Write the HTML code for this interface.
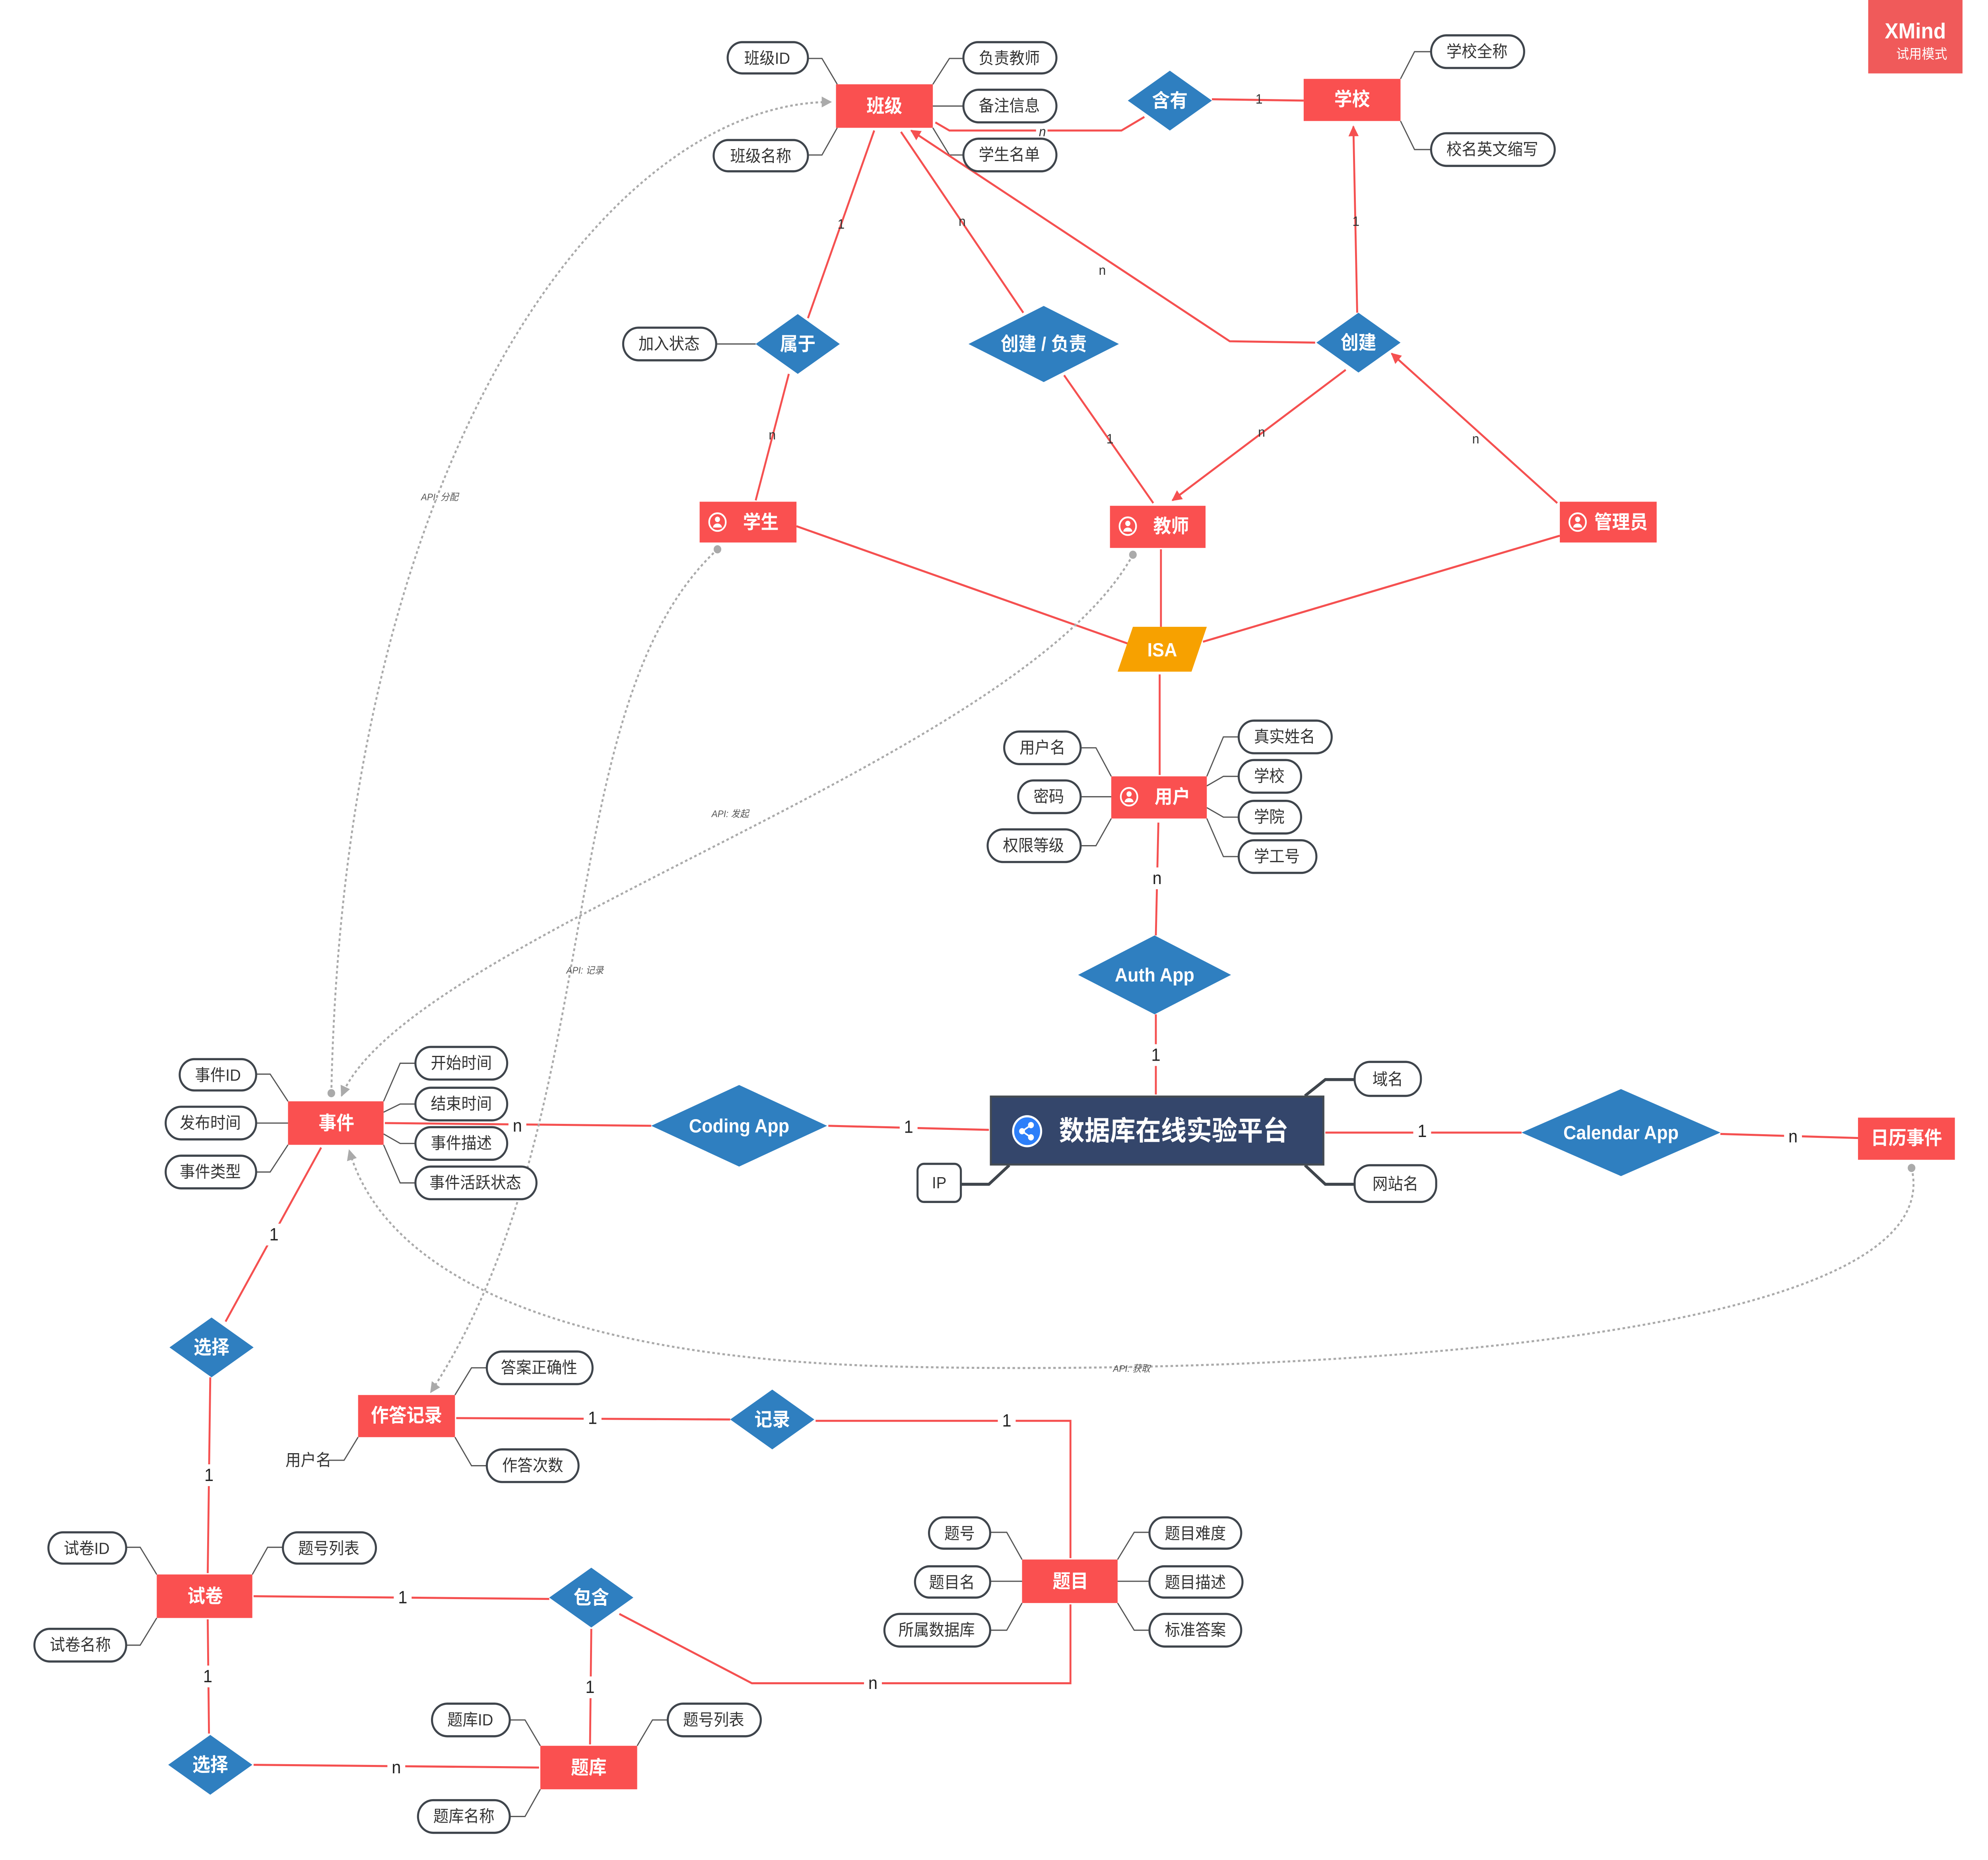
<!DOCTYPE html>
<html><head><meta charset="utf-8"><style>
html,body{margin:0;padding:0;background:#fff;width:100%;height:100%;overflow:hidden}
svg{display:block;width:100vw;height:100vh}
text{font-family:"Liberation Sans","Noto Sans CJK SC",sans-serif}
.e{fill:#fa5050}
.et{fill:#fff;font-size:14px;font-weight:bold;text-anchor:middle;dominant-baseline:central}
.d{fill:#2f7fc0}
.dt{fill:#fff;font-size:14px;font-weight:bold;text-anchor:middle;dominant-baseline:central}
.p{fill:#fff;stroke:#3f454c;stroke-width:1.6}
.pt{fill:#333;font-size:12px;text-anchor:middle;dominant-baseline:central}
.a{fill:none;stroke:#555;stroke-width:0.9}
.r{fill:none;stroke:#f55050;stroke-width:1.5}
.l{fill:#333;font-size:10px;text-anchor:middle;dominant-baseline:central}
.L{fill:#222;font-size:13px;text-anchor:middle;dominant-baseline:central}
.g{fill:none;stroke:#aaa;stroke-width:1.5;stroke-dasharray:2 2}
.gl{fill:#555;font-size:7px;font-style:italic;text-anchor:middle}
</style></head><body>
<svg viewBox="0 0 1560 1368" preserveAspectRatio="none" xmlns="http://www.w3.org/2000/svg">
<defs>
<marker id="ar" viewBox="0 0 10 10" refX="9" refY="5" markerWidth="8" markerHeight="8" orient="auto-start-reverse" markerUnits="userSpaceOnUse"><path d="M0,0 L10,5 L0,10 z" fill="#f55050"/></marker>
<marker id="ag" viewBox="0 0 10 10" refX="9" refY="5" markerWidth="8" markerHeight="8" orient="auto" markerUnits="userSpaceOnUse"><path d="M0,0 L10,5 L0,10 z" fill="#aaa"/></marker>
<marker id="dg" viewBox="0 0 10 10" refX="5" refY="5" markerWidth="6" markerHeight="6" markerUnits="userSpaceOnUse"><circle cx="5" cy="5" r="5" fill="#aaa"/></marker>
</defs>

<g class="a">
<polyline points="634,43 645,43 657,62"/><polyline points="634,114 645,114 657,94"/>
<polyline points="756,43 745,43 732,62"/><polyline points="756,78 732,78"/><polyline points="756,114 745,114 732,94"/>
<polyline points="1123,38 1110,38 1099,58"/><polyline points="1123,110 1110,110 1099,89"/>
<polyline points="562,253 593,253"/>
<polyline points="848,550 860,550 872,571"/><polyline points="848,586 872,586"/><polyline points="848,622 860,622 872,602"/>
<polyline points="972,542 960,542 947,571"/><polyline points="972,571 960,571 947,578"/><polyline points="972,601 960,601 947,594"/><polyline points="972,630 960,630 947,602"/>
<polyline points="201,790 212,790 226,810"/><polyline points="201,826 226,826"/><polyline points="201,862 212,862 226,842"/>
<polyline points="326,782 314,782 301,810"/><polyline points="326,812 314,812 301,818"/><polyline points="326,841 314,841 301,834"/><polyline points="326,870 314,870 301,842"/>
<polyline points="382,1006 370,1006 357,1026"/><polyline points="382,1078 370,1078 357,1057"/><polyline points="258,1074 270,1074 281,1057"/>
<polyline points="99,1138 110,1138 123,1158"/><polyline points="99,1210 110,1210 123,1190"/><polyline points="222,1138 210,1138 198,1158"/>
<polyline points="777,1127 790,1127 802,1147"/><polyline points="777,1163 802,1163"/><polyline points="777,1199 790,1199 802,1179"/>
<polyline points="902,1127 890,1127 877,1147"/><polyline points="902,1163 877,1163"/><polyline points="902,1199 890,1199 877,1179"/>
<polyline points="400,1265 412,1265 424,1284"/><polyline points="400,1336 412,1336 424,1316"/><polyline points="524,1265 512,1265 500,1284"/>
</g>
<g fill="none" stroke="#3f454c" stroke-width="2.2">
<polyline points="1063,794 1040,794 1024,806"/><polyline points="1063,871 1040,871 1024,857"/><polyline points="754,871 776,871 792,857"/>
</g>

<g class="r">
<polyline points="734,90 745,96 880,96 898,86"/>
<line x1="951" y1="73" x2="1023" y2="74"/>
<line x1="1065" y1="230" x2="1062" y2="93" marker-end="url(#ar)"/>
<line x1="686" y1="96" x2="634" y2="234"/>
<line x1="619" y1="275" x2="593" y2="368"/>
<line x1="803" y1="230" x2="707" y2="97"/>
<polyline points="1032,252 965,251 715,96" marker-end="url(#ar)"/>
<line x1="835" y1="276" x2="905" y2="370"/>
<line x1="1056" y1="272" x2="920" y2="368" marker-end="url(#ar)"/>
<line x1="1222" y1="370" x2="1092" y2="260" marker-end="url(#ar)"/>
<line x1="625" y1="387" x2="887" y2="474"/>
<line x1="911" y1="404" x2="911" y2="461"/>
<line x1="1224" y1="394" x2="944" y2="472"/>
<line x1="910" y1="496" x2="910" y2="570"/>
<line x1="909" y1="605" x2="907" y2="688"/>
<line x1="907" y1="746" x2="907" y2="805"/>
<line x1="650" y1="828" x2="776" y2="831"/>
<line x1="302" y1="826" x2="511" y2="828"/>
<line x1="1040" y1="833" x2="1194" y2="833"/>
<line x1="1350" y1="834" x2="1458" y2="837"/>
<line x1="252" y1="844" x2="177" y2="972"/>
<line x1="165" y1="1013" x2="163" y2="1157"/>
<line x1="358" y1="1043" x2="573" y2="1044"/>
<polyline points="640,1045 840,1045 840,1146"/>
<line x1="199" y1="1174" x2="431" y2="1176"/>
<polyline points="486,1187 590,1238 840,1238 840,1180"/>
<line x1="464" y1="1198" x2="463" y2="1283"/>
<line x1="163" y1="1191" x2="164" y2="1275"/>
<line x1="199" y1="1298" x2="423" y2="1300"/>
</g>
<g>
<rect x="813" y="91" width="9" height="10" fill="#fff"/><text class="l" x="818" y="97" font-style="italic" font-size="8">n</text>
<text class="l" x="988" y="73" font-size="8">1</text>
<text class="l" x="1064" y="163" font-size="8">1</text>
<text class="l" x="660" y="165" font-size="8">1</text>
<text class="l" x="606" y="320" font-size="8">n</text>
<text class="l" x="755" y="163" font-size="8">n</text>
<text class="l" x="865" y="199" font-size="8">n</text>
<text class="l" x="871" y="323" font-size="8">1</text>
<text class="l" x="990" y="318" font-size="8">n</text>
<text class="l" x="1158" y="323" font-size="8">n</text>
</g>
<g>
<rect x="901" y="638" width="14" height="16" fill="#fff"/><text class="L" x="908" y="646">n</text>
<rect x="900" y="768" width="14" height="16" fill="#fff"/><text class="L" x="907" y="776">1</text>
<rect x="706" y="821" width="14" height="16" fill="#fff"/><text class="L" x="713" y="829">1</text>
<rect x="399" y="820" width="14" height="16" fill="#fff"/><text class="L" x="406" y="828">n</text>
<rect x="1109" y="824" width="14" height="16" fill="#fff"/><text class="L" x="1116" y="832">1</text>
<rect x="1400" y="828" width="14" height="16" fill="#fff"/><text class="L" x="1407" y="836">n</text>
<rect x="208" y="900" width="14" height="16" fill="#fff"/><text class="L" x="215" y="908">1</text>
<rect x="157" y="1077" width="14" height="16" fill="#fff"/><text class="L" x="164" y="1085">1</text>
<rect x="458" y="1035" width="14" height="16" fill="#fff"/><text class="L" x="465" y="1043">1</text>
<rect x="783" y="1037" width="14" height="16" fill="#fff"/><text class="L" x="790" y="1045">1</text>
<rect x="309" y="1167" width="14" height="16" fill="#fff"/><text class="L" x="316" y="1175">1</text>
<rect x="678" y="1230" width="14" height="16" fill="#fff"/><text class="L" x="685" y="1238">n</text>
<rect x="456" y="1233" width="14" height="16" fill="#fff"/><text class="L" x="463" y="1241">1</text>
<rect x="156" y="1225" width="14" height="16" fill="#fff"/><text class="L" x="163" y="1233">1</text>
<rect x="304" y="1292" width="14" height="16" fill="#fff"/><text class="L" x="311" y="1300">n</text>
</g>

<path class="g" d="M260,804 C270,330 480,75 652,75" marker-start="url(#dg)" marker-end="url(#ag)"/>
<path class="g" d="M889,408 C800,560 320,690 268,806" marker-start="url(#dg)" marker-end="url(#ag)"/>
<path class="g" d="M563,404 C430,520 480,820 338,1024" marker-start="url(#dg)" marker-end="url(#ag)"/>
<path class="g" d="M1500,859 C1534,990 1000,1012 700,1005 C420,998 300,930 274,846" marker-start="url(#dg)" marker-end="url(#ag)"/>
<text class="gl" x="345" y="368">API: 分配</text>
<text class="gl" x="573" y="601">API: 发起</text>
<text class="gl" x="459" y="716">API: 记录</text>
<text class="gl" x="888" y="1009">API: 获取</text>

<rect class="e" x="656" y="62" width="76" height="32"/><text class="et" x="694" y="78">班级</text>
<rect class="e" x="1023" y="58" width="76" height="31"/><text class="et" x="1061" y="73">学校</text>
<rect class="e" x="549" y="369" width="76" height="30"/><text class="et" x="597" y="384">学生</text>
<rect class="e" x="871" y="372" width="75" height="31"/><text class="et" x="919" y="387">教师</text>
<rect class="e" x="1224" y="369" width="76" height="30"/><text class="et" x="1272" y="384">管理员</text>
<rect class="e" x="872" y="571" width="75" height="31"/><text class="et" x="920" y="586">用户</text>
<rect class="e" x="226" y="810" width="75" height="32"/><text class="et" x="264" y="826">事件</text>
<rect class="e" x="281" y="1026" width="76" height="31"/><text class="et" x="319" y="1041">作答记录</text>
<rect class="e" x="123" y="1158" width="75" height="32"/><text class="et" x="161" y="1174">试卷</text>
<rect class="e" x="802" y="1147" width="75" height="32"/><text class="et" x="840" y="1163">题目</text>
<rect class="e" x="424" y="1284" width="76" height="32"/><text class="et" x="462" y="1300">题库</text>
<rect class="e" x="1458" y="822" width="76" height="31"/><text class="et" x="1496" y="837">日历事件</text>
<g fill="none" stroke="#fff" stroke-width="1.3">
<circle cx="563" cy="384" r="6.5"/><circle cx="885" cy="387" r="6.5"/><circle cx="1238" cy="384" r="6.5"/><circle cx="886" cy="586" r="6.5"/>
</g>
<g fill="#fff">
<circle cx="563" cy="382" r="2"/><path d="M559.5,388 a3.5,3 0 0 1 7,0z"/>
<circle cx="885" cy="385" r="2"/><path d="M881.5,391 a3.5,3 0 0 1 7,0z"/>
<circle cx="1238" cy="382" r="2"/><path d="M1234.5,388 a3.5,3 0 0 1 7,0z"/>
<circle cx="886" cy="584" r="2"/><path d="M882.5,590 a3.5,3 0 0 1 7,0z"/>
</g>

<rect x="777.5" y="806.5" width="261" height="50" fill="#34466b" stroke="#444b52" stroke-width="1.5"/>
<circle cx="806" cy="832" r="11" fill="#2d7ff9" stroke="#fff" stroke-width="1.6"/>
<g fill="#fff" stroke="#fff" stroke-width="1.2"><line x1="802" y1="832" x2="809" y2="827.5"/><line x1="802" y1="832" x2="809" y2="836.5"/><circle cx="802" cy="832" r="1.7"/><circle cx="809" cy="827.5" r="1.7"/><circle cx="809" cy="836.5" r="1.7"/></g>
<text x="921" y="832" fill="#fff" font-size="20" font-weight="bold" text-anchor="middle" dominant-baseline="central">数据库在线实验平台</text>

<polygon class="d" points="885,74 918,52 951,74 918,96"/><text class="dt" x="918" y="74">含有</text>
<polygon class="d" points="593,253 626,231 659,253 626,275"/><text class="dt" x="626" y="253">属于</text>
<polygon class="d" points="760,253 819,225 878,253 819,281"/><text class="dt" x="819" y="253">创建 / 负责</text>
<polygon class="d" points="1033,252 1066,230 1099,252 1066,274"/><text class="dt" x="1066" y="252">创建</text>
<polygon class="d" points="846,717 906,688 966,717 906,746"/><text class="dt" x="906" y="717">Auth App</text>
<polygon class="d" points="511,828 580,798 649,828 580,858"/><text class="dt" x="580" y="828">Coding App</text>
<polygon class="d" points="1194,833 1272,801 1350,833 1272,865"/><text class="dt" x="1272" y="833">Calendar App</text>
<polygon class="d" points="133,991 166,969 199,991 166,1013"/><text class="dt" x="166" y="991">选择</text>
<polygon class="d" points="573,1044 606,1022 639,1044 606,1066"/><text class="dt" x="606" y="1044">记录</text>
<polygon class="d" points="431,1175 464,1153 497,1175 464,1197"/><text class="dt" x="464" y="1175">包含</text>
<polygon class="d" points="132,1298 165,1276 198,1298 165,1320"/><text class="dt" x="165" y="1298">选择</text>
<polygon points="889,461 947,461 935,494 877,494" fill="#f7a100"/><text class="dt" x="912" y="478">ISA</text>

<g>
<rect class="p" x="571" y="31" width="63" height="23" rx="11.5"/><text class="pt" x="602" y="43">班级ID</text>
<rect class="p" x="560" y="103" width="74" height="23" rx="11.5"/><text class="pt" x="597" y="115">班级名称</text>
<rect class="p" x="756" y="31" width="73" height="23" rx="11.5"/><text class="pt" x="792" y="43">负责教师</text>
<rect class="p" x="756" y="66" width="73" height="24" rx="12"/><text class="pt" x="792" y="78">备注信息</text>
<rect class="p" x="756" y="102" width="73" height="24" rx="12"/><text class="pt" x="792" y="114">学生名单</text>
<rect class="p" x="1123" y="26" width="73" height="24" rx="12"/><text class="pt" x="1159" y="38">学校全称</text>
<rect class="p" x="1123" y="98" width="97" height="24" rx="12"/><text class="pt" x="1171" y="110">校名英文缩写</text>
<rect class="p" x="489" y="241" width="73" height="24" rx="12"/><text class="pt" x="525" y="253">加入状态</text>
<rect class="p" x="788" y="538" width="60" height="24" rx="12"/><text class="pt" x="818" y="550">用户名</text>
<rect class="p" x="799" y="574" width="49" height="24" rx="12"/><text class="pt" x="823" y="586">密码</text>
<rect class="p" x="775" y="610" width="73" height="24" rx="12"/><text class="pt" x="811" y="622">权限等级</text>
<rect class="p" x="972" y="530" width="73" height="24" rx="12"/><text class="pt" x="1008" y="542">真实姓名</text>
<rect class="p" x="972" y="559" width="49" height="24" rx="12"/><text class="pt" x="996" y="571">学校</text>
<rect class="p" x="972" y="589" width="49" height="24" rx="12"/><text class="pt" x="996" y="601">学院</text>
<rect class="p" x="972" y="618" width="61" height="24" rx="12"/><text class="pt" x="1002" y="630">学工号</text>
<rect class="p" x="1063" y="781" width="52" height="25" rx="12" stroke-width="2.2"/><text class="pt" x="1089" y="794">域名</text>
<rect class="p" x="1063" y="857" width="64" height="27" rx="12" stroke-width="2.2"/><text class="pt" x="1095" y="871">网站名</text>
<rect class="p" x="720" y="856" width="34" height="28" rx="5" stroke-width="2.2"/><text class="pt" x="737" y="870" font-size="10">IP</text>
<rect class="p" x="141" y="779" width="60" height="23" rx="11.5"/><text class="pt" x="171" y="791">事件ID</text>
<rect class="p" x="130" y="814" width="71" height="24" rx="12"/><text class="pt" x="165" y="826">发布时间</text>
<rect class="p" x="130" y="850" width="71" height="24" rx="12"/><text class="pt" x="165" y="862">事件类型</text>
<rect class="p" x="326" y="770" width="72" height="24" rx="12"/><text class="pt" x="362" y="782">开始时间</text>
<rect class="p" x="326" y="800" width="72" height="24" rx="12"/><text class="pt" x="362" y="812">结束时间</text>
<rect class="p" x="326" y="829" width="72" height="24" rx="12"/><text class="pt" x="362" y="841">事件描述</text>
<rect class="p" x="326" y="858" width="95" height="24" rx="12"/><text class="pt" x="373" y="870">事件活跃状态</text>
<rect class="p" x="382" y="994" width="83" height="24" rx="12"/><text class="pt" x="423" y="1006">答案正确性</text>
<rect class="p" x="382" y="1066" width="72" height="24" rx="12"/><text class="pt" x="418" y="1078">作答次数</text>
<text class="pt" x="242" y="1074" font-size="8">用户名</text>
<rect class="p" x="38" y="1127" width="61" height="23" rx="11.5"/><text class="pt" x="68" y="1139">试卷ID</text>
<rect class="p" x="27" y="1198" width="72" height="24" rx="12"/><text class="pt" x="63" y="1210">试卷名称</text>
<rect class="p" x="222" y="1127" width="73" height="23" rx="11.5"/><text class="pt" x="258" y="1139">题号列表</text>
<rect class="p" x="729" y="1116" width="48" height="23" rx="11.5"/><text class="pt" x="753" y="1128">题号</text>
<rect class="p" x="718" y="1152" width="59" height="23" rx="11.5"/><text class="pt" x="747" y="1164">题目名</text>
<rect class="p" x="694" y="1187" width="83" height="24" rx="12"/><text class="pt" x="735" y="1199">所属数据库</text>
<rect class="p" x="902" y="1116" width="72" height="23" rx="11.5"/><text class="pt" x="938" y="1128">题目难度</text>
<rect class="p" x="902" y="1152" width="73" height="23" rx="11.5"/><text class="pt" x="938" y="1164">题目描述</text>
<rect class="p" x="902" y="1187" width="72" height="24" rx="12"/><text class="pt" x="938" y="1199">标准答案</text>
<rect class="p" x="339" y="1253" width="61" height="24" rx="12"/><text class="pt" x="369" y="1265">题库ID</text>
<rect class="p" x="328" y="1324" width="72" height="24" rx="12"/><text class="pt" x="364" y="1336">题库名称</text>
<rect class="p" x="524" y="1253" width="73" height="24" rx="12"/><text class="pt" x="560" y="1265">题号列表</text>
</g>

<rect x="1466" y="0" width="74" height="54" fill="#f05a5a"/>
<text x="1503" y="23" fill="#fff" font-size="16" font-weight="bold" text-anchor="middle" dominant-baseline="central">XMind</text>
<text x="1508" y="40" fill="#fff" font-size="10" text-anchor="middle" dominant-baseline="central">试用模式</text>
</svg>
</body></html>
